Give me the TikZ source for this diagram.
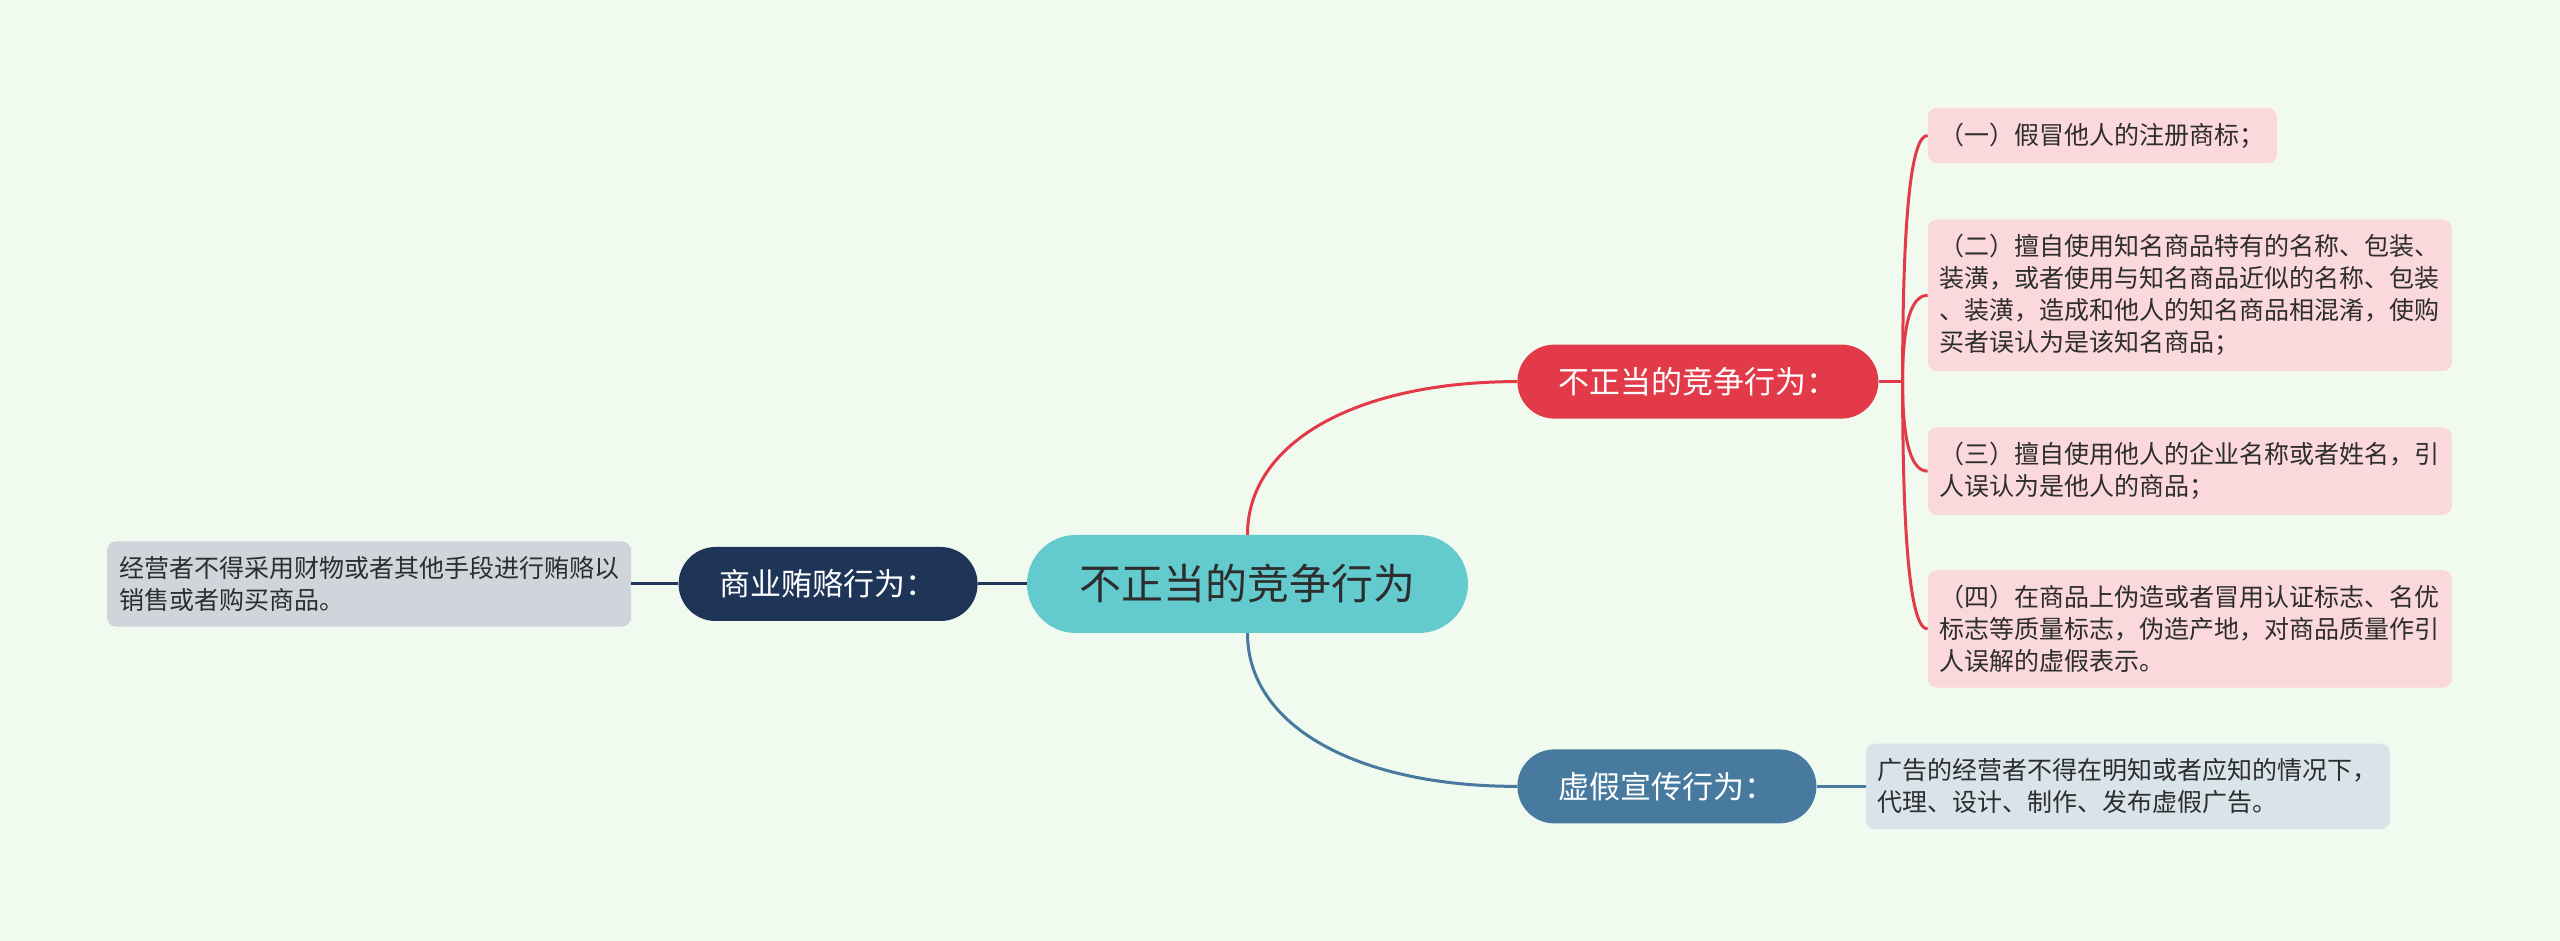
\documentclass[tikz,border=0pt]{standalone}
\usepackage{fontspec}
\setmainfont{Noto Sans CJK SC}
\usepackage{tikz}
\usetikzlibrary{positioning,calc}
\usepackage{xcolor}

\definecolor{bgmint}{RGB}{240,250,239}
\definecolor{rootteal}{RGB}{99,203,206}
\definecolor{textgray}{RGB}{45,45,45}
\definecolor{unfairred}{RGB}{226,58,72}
\definecolor{unfairleaf}{RGB}{250,216,220}
\definecolor{bribenavy}{RGB}{31,53,88}
\definecolor{bribeleaf}{RGB}{208,213,220}
\definecolor{adblue}{RGB}{71,122,158}
\definecolor{adleaf}{RGB}{217,227,234}

\begin{document}
\begin{tikzpicture}[
    x=1pt, y=1pt,
    every node/.style={text=textgray},
    root/.style={rectangle, rounded corners=49pt, minimum width=441pt, minimum height=98pt, fill=rootteal, font=\fontsize{42}{50}\selectfont},
    topic/.style={rectangle, rounded corners=37pt, minimum height=74pt, inner xsep=41pt, fill=#1, text=white, font=\fontsize{31}{38}\selectfont},
    leaf/.style={rectangle, rounded corners=9pt, inner xsep=12pt, inner ysep=15pt, align=left, fill=#1, font=\fontsize{25}{32}\selectfont},
    link/.style={line width=3pt, draw=#1}
]

% Background
\fill[bgmint] (-1247.5,584) rectangle (1312.5,-357);
\useasboundingbox (-1247.5,584) rectangle (1312.5,-357);

% Central node
\node[root] (center) {不正当的竞争行为};

% Main topics
\node[topic=unfairred, above right=116pt and 49pt of center] (unfair) {不正当的竞争行为：};
\node[topic=adblue, below right=116pt and 49pt of center] (ad_false) {虚假宣传行为：};
\node[topic=bribenavy, left=49pt of center] (bribe) {商业贿赂行为：};

% Unfair competition items
\node[leaf=unfairleaf, above right=181pt and 49pt of unfair] (item_a) {（一）假冒他人的注册商标；};
\node[leaf=unfairleaf, below=56pt of item_a.south west, anchor=north west] (item_b) {（二）擅自使用知名商品特有的名称、包装、\\装潢，或者使用与知名商品近似的名称、包装\\、装潢，造成和他人的知名商品相混淆，使购\\买者误认为是该知名商品；};
\node[leaf=unfairleaf, below=56pt of item_b.south west, anchor=north west] (item_c) {（三）擅自使用他人的企业名称或者姓名，引\\人误认为是他人的商品；};
\node[leaf=unfairleaf, below=55pt of item_c.south west, anchor=north west] (item_d) {（四）在商品上伪造或者冒用认证标志、名优\\标志等质量标志，伪造产地，对商品质量作引\\人误解的虚假表示。};

% Other leaves
\node[leaf=bribeleaf, left=47pt of bribe] (bribe_leaf) {经营者不得采用财物或者其他手段进行贿赂以\\销售或者购买商品。};
\node[leaf=adleaf, right=49pt of ad_false] (ad_leaf) {广告的经营者不得在明知或者应知的情况下，\\代理、设计、制作、发布虚假广告。};

% Connectors
\draw[link=unfairred] (center.north) .. controls ($(center.north)!0.6!(center.north |- unfair.west)$) and ($(unfair.west)!0.6!(center.north |- unfair.west)$) .. (unfair.west);
\draw[link=adblue] (center.south) .. controls ($(center.south)!0.6!(center.south |- ad_false.west)$) and ($(ad_false.west)!0.6!(center.south |- ad_false.west)$) .. (ad_false.west);
\draw[link=bribenavy] (center.west) -- (bribe.east);
\draw[link=bribenavy] (bribe.west) -- (bribe_leaf.east);
\draw[link=adblue] (ad_false.east) -- (ad_leaf.west);

\coordinate[right=24pt of unfair.east] (fork);
\draw[link=unfairred] (unfair.east) -- (fork);
\foreach \item in {item_a,item_b,item_c,item_d}
    \draw[link=unfairred] (fork) .. controls ($(fork)!0.667!(fork |- \item.west)$) and ($(\item.west)!0.667!(fork |- \item.west)$) .. (\item.west);

\end{tikzpicture}
\end{document}
